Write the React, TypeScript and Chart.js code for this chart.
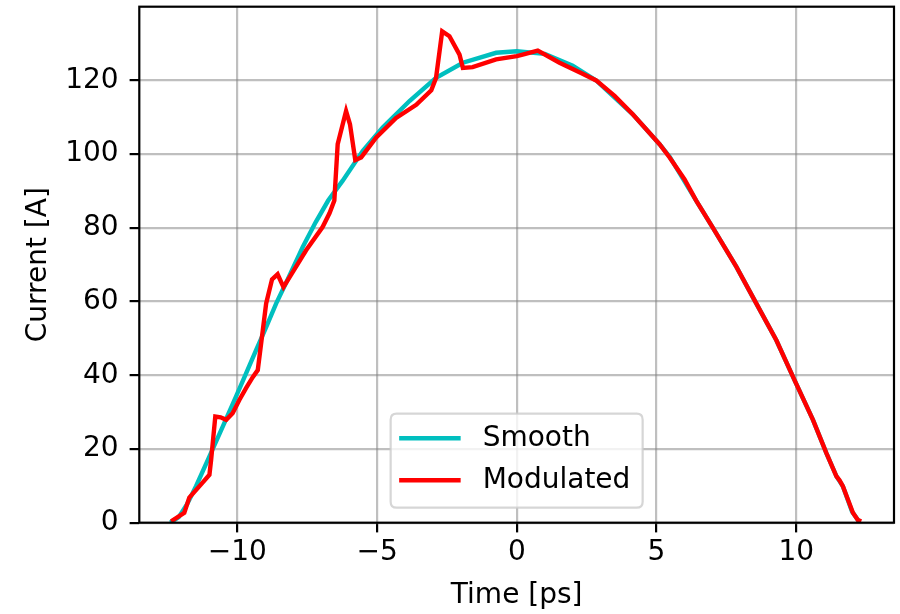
import React, { useEffect, useRef } from "react";
import { Chart, registerables } from "chart.js";

Chart.register(...registerables);

// ---- data ----
const smoothTime = [-12.4, -12.1, -11.8, -11.48, -11.0, -10.5, -10.05, -9.7, -9.33, -9.0, -8.61, -8.2, -7.66, -7.2, -6.75, -6.23, -5.51, -4.8, -3.84, -2.89, -1.93, -0.74, 0.0, 1.0, 2.0, 2.84, 4.15, 5.11, 5.47, 6.42, 7.02, 7.86, 8.57, 9.29, 9.94, 10.6, 11.08, 11.44, 11.67, 12.0, 12.25];
const smoothCurrent = [0, 1.5, 5, 9.9, 18, 26.5, 34.2, 40.3, 46.8, 52.5, 59.5, 66, 74.8, 81.5, 87.4, 92.8, 100.9, 107.2, 114.4, 120.7, 124.8, 127.5, 127.9, 127.2, 124, 120, 110.8, 102.7, 99.3, 87.4, 80, 69.4, 59.5, 49.5, 38.7, 27.9, 18.9, 12.6, 9.9, 3, 0.3];

const modTime = [-12.37, -11.9, -11.72, -11.3, -11.0, -10.94, -10.79, -10.6, -10.4, -10.17, -9.93, -9.69, -9.45, -9.27, -9.15, -8.97, -8.76, -8.56, -8.35, -8.02, -7.54, -6.95, -6.7, -6.53, -6.41, -6.11, -5.97, -5.78, -5.57, -5.03, -4.32, -3.6, -3.06, -2.89, -2.67, -2.41, -2.05, -1.93, -1.58, -0.74, 0.0, 0.21, 0.75, 1.53, 2.3, 2.84, 3.5, 4.15, 4.6, 5.11, 5.47, 6.0, 6.42, 7.02, 7.86, 8.57, 9.29, 9.94, 10.6, 11.08, 11.44, 11.55, 11.67, 12.03, 12.21, 12.33];
const modCurrent = [0.4, 2.7, 6.8, 10.4, 13, 17, 28.8, 28.6, 27.9, 29.7, 33.3, 36.5, 39.5, 41.4, 48.6, 59.5, 66, 67.4, 63.9, 68, 73.9, 80.2, 84, 87.4, 102.7, 111.7, 108.1, 98.4, 99.1, 104.5, 109.8, 113.4, 117.3, 120.7, 133.3, 132, 127, 123.4, 123.6, 125.7, 126.6, 127, 128.1, 124.8, 122, 120, 115.8, 110.8, 107, 102.7, 99.1, 93.2, 87.4, 80, 69.4, 59.5, 49.5, 38.7, 27.9, 18.9, 12.6, 11.5, 9.9, 2.7, 0.7, 0.4];

const seriesLabels = ["Smooth", "Modulated"];
const seriesColors = ["#00bfbf", "#ff0000"];
const xTicks = [-10, -5, 0, 5, 10];
const yTicks = [0, 20, 40, 60, 80, 100, 120];
const xRange = [-13.51, 13.5];
const yRange = [0, 140];

const FONT = "'DejaVu Sans', sans-serif";
const FS = 28;

const fmt = (v: number) => (v < 0 ? "\u2212" + Math.abs(v) : String(v));

const framePlugin = {
  id: "frameAndLegend",
  afterDatasetsDraw(chart: any) {
    const { ctx, chartArea } = chart;
    const w = 252, h = 94;
    const cx = (chartArea.left + chartArea.right) / 2;
    const left = cx - w / 2;
    const top = chartArea.bottom - 15 - h;
    ctx.save();
    const r = 6;
    ctx.beginPath();
    ctx.moveTo(left + r, top);
    ctx.lineTo(left + w - r, top);
    ctx.quadraticCurveTo(left + w, top, left + w, top + r);
    ctx.lineTo(left + w, top + h - r);
    ctx.quadraticCurveTo(left + w, top + h, left + w - r, top + h);
    ctx.lineTo(left + r, top + h);
    ctx.quadraticCurveTo(left, top + h, left, top + h - r);
    ctx.lineTo(left, top + r);
    ctx.quadraticCurveTo(left, top, left + r, top);
    ctx.closePath();
    ctx.fillStyle = "rgba(255,255,255,0.8)";
    ctx.fill();
    ctx.strokeStyle = "rgba(204,204,204,0.8)";
    ctx.lineWidth = 2.2;
    ctx.stroke();
    ctx.font = `${FS}px ${FONT}`;
    ctx.textBaseline = "middle";
    ctx.textAlign = "left";
    seriesLabels.forEach((lab, i) => {
      const y = top + 24.5 + i * 42;
      ctx.strokeStyle = seriesColors[i];
      ctx.lineWidth = 4.4;
      ctx.beginPath();
      ctx.moveTo(left + 8.5, y);
      ctx.lineTo(left + 70, y);
      ctx.stroke();
      ctx.fillStyle = "black";
      ctx.fillText(lab, left + 92, y + 1);
    });
    ctx.restore();
  },
  afterDraw(chart: any) {
    const { ctx, chartArea } = chart;
    ctx.save();
    ctx.strokeStyle = "black";
    ctx.lineWidth = 2.2;
    ctx.strokeRect(
      chartArea.left,
      chartArea.top,
      chartArea.right - chartArea.left,
      chartArea.bottom - chartArea.top
    );
    ctx.restore();
  },
};

export default function App() {
  const ref = useRef<HTMLCanvasElement | null>(null);
  useEffect(() => {
    if (!ref.current) return;
    const font = { family: FONT, size: FS };
    const grid = {
      color: "rgba(128,128,128,0.5)",
      lineWidth: 2.2,
      tickLength: 9.7,
      tickColor: "black",
      tickWidth: 2.2,
    };
    const chart = new Chart(ref.current, {
      type: "line",
      data: {
        datasets: [
          {
            label: seriesLabels[0],
            data: smoothTime.map((x, i) => ({ x, y: smoothCurrent[i] })),
            borderColor: seriesColors[0],
            borderWidth: 4.4,
            pointRadius: 0,
            tension: 0,
            fill: false,
            order: 1,
          },
          {
            label: seriesLabels[1],
            data: modTime.map((x, i) => ({ x, y: modCurrent[i] })),
            borderColor: seriesColors[1],
            borderWidth: 4.4,
            pointRadius: 0,
            tension: 0,
            fill: false,
            order: 0,
          },
        ],
      },
      options: {
        animation: false,
        responsive: false,
        devicePixelRatio: 1,
        layout: { padding: { top: 6.7, right: 6, left: 0, bottom: 0 } },
        plugins: { legend: { display: false }, tooltip: { enabled: false } },
        scales: {
          x: {
            type: "linear",
            min: xRange[0],
            max: xRange[1],
            afterBuildTicks: (s: any) => {
              s.ticks = xTicks.map((v) => ({ value: v }));
            },
            afterFit: (s: any) => {
              s.height = 91.3;
              s.paddingLeft = 0;
              s.paddingRight = 0;
            },
            ticks: {
              font,
              color: "black",
              padding: 4,
              maxRotation: 0,
              autoSkip: false,
              callback: (v: any) => fmt(Number(v)),
            },
            grid,
            border: { display: false },
            title: {
              display: true,
              text: "Time [ps]",
              font,
              color: "black",
              padding: { top: 0, bottom: 1.5 },
            },
          },
          y: {
            type: "linear",
            min: yRange[0],
            max: yRange[1],
            afterBuildTicks: (s: any) => {
              s.ticks = yTicks.map((v) => ({ value: v }));
            },
            afterFit: (s: any) => {
              s.width = 139.3;
              s.paddingTop = 0;
              s.paddingBottom = 0;
            },
            ticks: {
              font,
              color: "black",
              padding: 11,
              autoSkip: false,
              callback: (v: any) => fmt(Number(v)),
            },
            grid,
            border: { display: false },
            title: {
              display: true,
              text: "Current [A]",
              font,
              color: "black",
              padding: { top: 22, bottom: 0 },
            },
          },
        },
      },
      plugins: [framePlugin],
    } as any);
    return () => chart.destroy();
  }, []);
  return (
    <div style={{ position: "absolute", left: 0, top: 0, width: 900, height: 614, background: "white" }}>
      <canvas ref={ref} width={900} height={614} />
    </div>
  );
}
